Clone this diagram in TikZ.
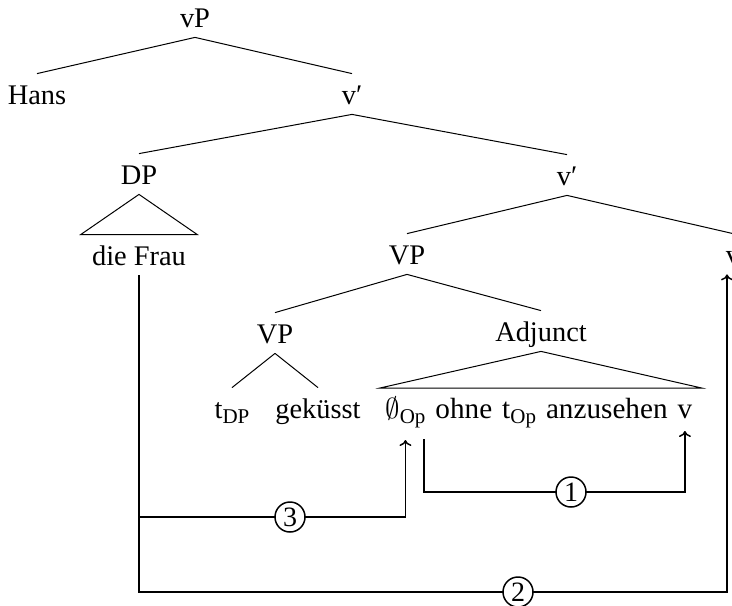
\documentclass[tikz,border=0pt]{standalone}
\usepackage{fontspec}
\setmainfont{Liberation Serif}
\usetikzlibrary{arrows.meta}
\newcommand\lowsub[1]{\raisebox{-2.6pt}{\fontsize{10.5}{10.5}\selectfont #1}}
\begin{document}
\begin{tikzpicture}[x=0.5pt,y=-0.5pt,
  lab/.style={anchor=base, font=\fontsize{14.2}{17}\selectfont,
    text height=10pt, text depth=0pt, inner ysep=5pt, inner xsep=0pt},
  word/.style={anchor=base west, font=\fontsize{14.6}{17}\selectfont, inner sep=0pt},
  branch/.style={line width=0.5pt},
  link/.style={line width=0.75pt},
  arr/.style={link, -{To[length=3pt,width=6pt]}},
  num/.style={circle, draw, line width=0.75pt, fill=white, inner sep=0pt,
    minimum size=15pt, font=\fontsize{14}{14}\selectfont}]
\useasboundingbox (0,0) rectangle (732,605);
\clip (0,0) rectangle (732,605);

% tree labels
\node[lab] (vP)   at (195,27)  {vP};
\node[lab] (hans) at (37,104)  {Hans};
\node[lab] (v1)   at (352,104) {v′};
\node[lab] (DP)   at (139,184) {DP};
\node[lab] (v2)   at (567,185) {v′};
\node[lab, inner xsep=5.5pt] (frau) at (139,265) {die Frau};
\node[lab] (VP)   at (407,264) {VP};
\node[lab] (vr)   at (733,264) {v};
\node[lab] (VPb)  at (275,343) {VP};
\node[lab] (adj)  at (541,341) {Adjunct};
\node[lab] (tDP)  at (232,418) {t\lowsub{DP}};
\node[lab] (gek)  at (318,418) {geküsst};

% adjunct phrase, built word by word
\node[word] (op)   at (385,418) {$\emptyset$\lowsub{Op}};
\node[word] (ohne) at ([xshift=4.6pt]op.base east) {ohne};
\node[word] (top)  at ([xshift=4.6pt]ohne.base east) {t\lowsub{Op}};
\node[word] (anz)  at ([xshift=4.6pt]top.base east) {anzusehen};
\node[word] (vv)   at ([xshift=4.6pt]anz.base east) {v};

% branches
\draw[branch] (vP.south) -- (hans.north);
\draw[branch] (vP.south) -- (v1.north);
\draw[branch] (v1.south) -- (DP.north);
\draw[branch] (v1.south) -- (v2.north);
\draw[branch] (v2.south) -- (VP.north);
\draw[branch] (v2.south) -- (vr.north);
\draw[branch] (VP.south) -- (VPb.north);
\draw[branch] (VP.south) -- (adj.north);
\draw[branch] (VPb.south) -- (tDP.north);
\draw[branch] (VPb.south) -- (gek.north);

% triangles
\draw[branch] (DP.south) -- (frau.north west) -- (frau.north east) -- cycle;
\coordinate (tl) at ([xshift=-2.5pt,yshift=15pt]op.base west);
\coordinate (tr) at ([xshift=4.5pt,yshift=15pt]vv.base east);
\draw[branch] (adj.south) -- (tl) -- (tr) -- cycle;

% movement arrows
\coordinate (h1) at (0,492);
\coordinate (h3) at (0,517);
\coordinate (h2) at (0,592);
\coordinate (s1) at ([xshift=-1pt,yshift=-10.5pt]op.base east);
\coordinate (t1) at ([yshift=-6.5pt]vv.base);
\coordinate (t3) at ([yshift=-11pt]op.base);
\coordinate (t2) at ([xshift=-3pt]vr.south);
\coordinate (j3) at (frau.south |- h3);

\draw[arr] (s1) -- (s1 |- h1) -| (t1);
\draw[arr] (frau.south) |- (t2 |- h2) -- (t2);
\draw[arr] (j3) -| (t3);

\node[num] (n1) at (571,492) {1};
\node[num] (n3) at (290,517) {3};
\node[num] (n2) at (518,592) {2};
\end{tikzpicture}
\end{document}
